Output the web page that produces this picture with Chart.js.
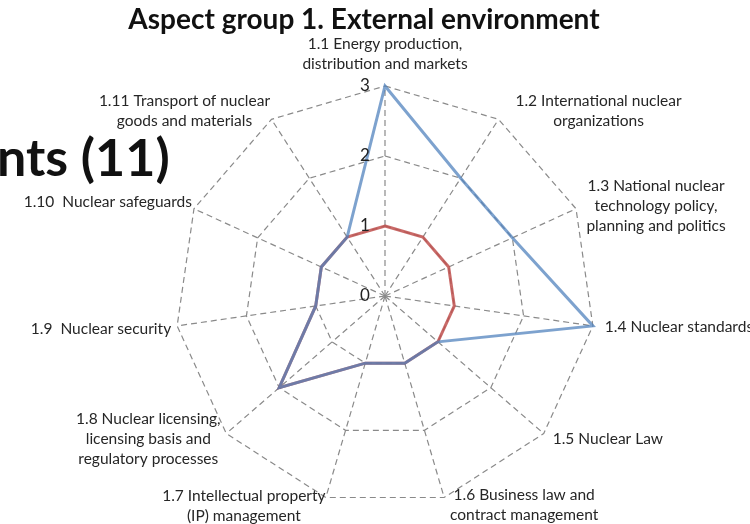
<!DOCTYPE html>
<html><head><meta charset="utf-8">
<script src="https://cdn.jsdelivr.net/npm/chart.js@4"></script>
<style>
html,body{margin:0;padding:0;background:#fff;}
#wrap{position:relative;width:750px;height:524px;overflow:hidden;}
#title{position:absolute;left:0;top:1px;width:728px;text-align:center;font:bold 28px Lato, sans-serif;color:#111;white-space:nowrap;}
#side{position:absolute;left:-3px;top:125px;font:bold 52px Lato, sans-serif;color:#111;white-space:nowrap;}
canvas{position:absolute;left:0;top:0;}
</style></head><body>
<div id="wrap"><canvas id="c" width="750" height="524"></canvas>
<div id="title">Aspect group 1. External environment</div>
<div id="side">nts (11)</div></div>
<script>
const categories = [
  ["1.1 Energy production,", "distribution and markets"],
  ["1.2 International nuclear", "organizations"],
  ["1.3 National nuclear", "technology policy,", "planning and politics"],
  ["1.4 Nuclear standards"],
  ["1.5 Nuclear Law"],
  ["1.6 Business law and", "contract management"],
  ["1.7 Intellectual property", "(IP) management"],
  ["1.8 Nuclear licensing,", "licensing basis and", "regulatory processes"],
  ["1.9  Nuclear security"],
  ["1.10  Nuclear safeguards"],
  ["1.11 Transport of nuclear", "goods and materials"]
];
const seriesRed  = [1, 1, 1, 1, 1, 1, 1, 2, 1, 1, 1];
const seriesBlue = [3, 2, 2, 3, 1, 1, 1, 2, 1, 1, 1];
const tickMin = 0, tickMax = 3, tickStep = 1;

// label placement relative to each axis end: [dx, dy, align]
const labelOffsets = [
  [0, -32, 'center'], [100, -8, 'center'], [80, -3, 'center'], [12, 1, 'left'],
  [9, 5, 'left'], [80, 8, 'center'], [-82, 9, 'center'], [-78, 5, 'center'],
  [-6, 3, 'right'], [-2, -7, 'right'], [-87, -8, 'center']
];

const labelPlugin = {
  id: 'customLabels',
  afterDraw(chart) {
    const s = chart.scales.r, ctx = chart.ctx;
    ctx.save();
    ctx.fillStyle = '#262626';
    ctx.textBaseline = 'middle';
    ctx.font = '15.5px Lato, sans-serif';
    chart.data.labels.forEach((lines, i) => {
      const p = s.getPointPosition(i, s.drawingArea);
      const o = labelOffsets[i];
      ctx.textAlign = o[2];
      const lh = 20;
      const y0 = p.y + o[1] - (lines.length - 1) * lh / 2;
      lines.forEach((t, k) => ctx.fillText(t, p.x + o[0], y0 + k * lh));
    });
    ctx.font = '17px Lato, sans-serif';
    ctx.textAlign = 'center';
    ctx.fillStyle = '#222';
    s.ticks.forEach(t => {
      const d = s.getDistanceFromCenterForValue(t.value);
      ctx.fillText(String(t.value), s.xCenter - 20, s.yCenter - d);
    });
    ctx.restore();
  }
};

new Chart(document.getElementById('c'), {
  type: 'radar',
  data: {
    labels: categories,
    datasets: [
      { label: 'Series 1', data: seriesRed, borderColor: 'rgba(192,80,77,0.85)', backgroundColor: 'transparent',
        borderWidth: 3, pointRadius: 0, fill: false, tension: 0, order: 2 },
      { label: 'Series 2', data: seriesBlue, borderColor: 'rgba(79,129,189,0.74)', backgroundColor: 'transparent',
        borderWidth: 3, pointRadius: 0, fill: false, tension: 0, order: 1 }
    ]
  },
  options: {
    responsive: false,
    animation: false,
    layout: { padding: { left: 175, right: 155, top: 86, bottom: 18 } },
    plugins: { legend: { display: false }, tooltip: { enabled: false }, title: { display: false } },
    scales: {
      r: {
        min: tickMin, max: tickMax,
        ticks: { stepSize: tickStep, display: false },
        pointLabels: { display: false },
        grid: { color: '#8a8a8a', lineWidth: 1.2, borderDash: [6, 4] },
        border: { dash: [6, 4] },
        angleLines: { color: '#8a8a8a', lineWidth: 1.2, borderDash: [6, 4] }
      }
    }
  },
  plugins: [labelPlugin]
});
</script>
</body></html>
